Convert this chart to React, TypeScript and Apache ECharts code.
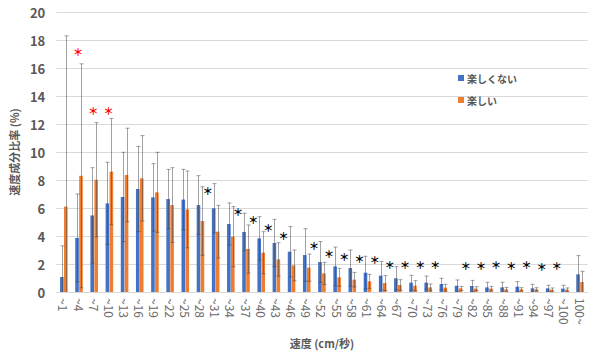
import React, { useEffect, useRef } from "react";
import * as echarts from "echarts";

const categories = [
  "~1", "~4", "~7", "~10", "~13", "~16", "~19", "~22", "~25", "~28", "~31", "~34",
  "~37", "~40", "~43", "~46", "~49", "~52", "~55", "~58", "~61", "~64", "~67", "~70",
  "~73", "~76", "~79", "~82", "~85", "~88", "~91", "~94", "~97", "~100", "100~",
];

const notFunValues = [
  1.07, 3.86, 5.47, 6.33, 6.79, 7.36, 6.76, 6.64, 6.6, 6.21, 5.98, 4.86,
  4.29, 3.83, 3.5, 2.88, 2.64, 2.14, 1.83, 1.71, 1.38, 1.17, 0.98, 0.67,
  0.67, 0.57, 0.45, 0.43, 0.33, 0.33, 0.38, 0.26, 0.26, 0.24, 1.26,
];
const notFunSD = [
  2.23, 3.14, 3.41, 2.93, 3.19, 3.04, 2.41, 2.12, 2.16, 2.1, 1.76, 1.5,
  1.33, 1.55, 1.69, 1.79, 1.88, 1.46, 1.38, 1.29, 1.17, 1.02, 0.83, 0.52,
  0.47, 0.41, 0.41, 0.4, 0.36, 0.36, 0.36, 0.29, 0.22, 0.24, 1.34,
];
const funValues = [
  6.1, 8.3, 8.02, 8.6, 8.36, 8.12, 7.12, 6.21, 5.9, 5.07, 4.31, 3.95,
  3.07, 2.81, 2.33, 1.9, 1.74, 1.33, 1.05, 0.88, 0.76, 0.64, 0.5, 0.45,
  0.33, 0.31, 0.26, 0.24, 0.24, 0.19, 0.19, 0.19, 0.17, 0.17, 0.71,
];
const funSD = [
  12.2, 8.0, 4.08, 3.8, 3.34, 3.05, 2.86, 2.67, 2.74, 2.45, 1.88, 2.15,
  1.72, 1.5, 1.19, 1.1, 0.97, 0.79, 0.64, 0.52, 0.5, 0.53, 0.38, 0.36,
  0.24, 0.24, 0.14, 0.14, 0.16, 0.14, 0.12, 0.12, 0.12, 0.12, 0.77,
];

const redStarIdx = [1, 2, 3];
const redStarY = [17.16, 12.95, 12.95];
const blackStarIdx = [10, 12, 13, 14, 15, 17, 18, 19, 20, 21, 22, 23, 24, 25, 27, 28, 29, 30, 31, 32, 33];
const blackStarY = [7.24, 5.73, 5.21, 4.59, 4.07, 3.29, 2.76, 2.52, 2.41, 2.3, 1.98, 1.98, 1.93, 1.98, 1.88, 1.88, 1.93, 1.88, 1.93, 1.83, 1.88];

const SERIES_NAMES = ["楽しくない", "楽しい"];
const COLORS = ["#4472C4", "#ED7D31"];
const BAR_W = 3.6;
const BAR_GAP = 0.36;
const FONT = "'Noto Sans CJK JP', 'Noto Sans', sans-serif";

function errorSeries(values: number[], sd: number[], side: number) {
  const data = values.map((v, i) => [i, v, sd[i]]);
  return {
    type: "custom",
    silent: true,
    z: 5,
    data,
    renderItem: (params: any, api: any) => {
      const i = api.value(0);
      const v = api.value(1);
      const s = api.value(2);
      const lo = Math.max(0, v - s);
      const hi = v + s;
      const pTop = api.coord([i, hi]);
      const pLo = api.coord([i, lo]);
      const x = Math.round(pTop[0] + side * (BAR_W + BAR_GAP) / 2) + 0.5;
      const style = { stroke: "rgba(70,70,70,0.5)", lineWidth: 1 };
      const cap = 2;
      const children: any[] = [
        { type: "line", shape: { x1: x, y1: pTop[1], x2: x, y2: pLo[1] }, style },
        { type: "line", shape: { x1: x - cap, y1: pTop[1], x2: x + cap, y2: pTop[1] }, style },
      ];
      if (v - s > 0) {
        children.push({ type: "line", shape: { x1: x - cap, y1: pLo[1], x2: x + cap, y2: pLo[1] }, style });
      }
      return { type: "group", children };
    },
  };
}

function starSeries(idx: number[], ys: number[], color: string, dx: number) {
  return {
    type: "custom",
    silent: true,
    z: 6,
    data: idx.map((i, k) => [i, ys[k]]),
    renderItem: (params: any, api: any) => {
      const p = api.coord([api.value(0), api.value(1)]);
      return {
        type: "text",
        x: p[0] + dx,
        y: p[1],
        style: {
          text: "＊",
          fill: color,
          fontSize: 10.5,
          fontWeight: "bold",
          fontFamily: "'Noto Sans CJK JP', sans-serif",
          align: "center",
          verticalAlign: "middle",
        },
      };
    },
  };
}

export default function App() {
  const ref = useRef<HTMLDivElement>(null);
  useEffect(() => {
    if (!ref.current) return;
    document.body.style.margin = "0";
    const chart = echarts.init(ref.current, undefined, { renderer: "svg" });
    chart.setOption({
      animation: false,
      backgroundColor: "#ffffff",
      textStyle: { fontFamily: FONT },
      grid: { left: 55.6, right: 12.4, top: 12, bottom: 66 },
      legend: {
        orient: "vertical",
        left: 453,
        top: 66,
        itemWidth: 6,
        itemHeight: 6,
        itemGap: 8,
        icon: "rect",
        data: SERIES_NAMES,
        textStyle: { fontSize: 10, lineHeight: 14, fontWeight: "bold", color: "#595959", fontFamily: FONT, padding: [0, 0, 0, -2] },
      },
      xAxis: {
        type: "category",
        data: categories,
        axisLine: { lineStyle: { color: "#D9D9D9", width: 1 } },
        axisTick: { show: false },
        axisLabel: {
          rotate: -90,
          interval: 0,
          fontSize: 12,
          color: "#6b6b6b",
          margin: 6,
          fontFamily: FONT,
        },
        name: "速度 (cm/秒)",
        nameLocation: "middle",
        nameGap: 45,
        nameTextStyle: { fontSize: 11, fontWeight: "bold", color: "#595959", fontFamily: FONT },
      },
      yAxis: {
        type: "value",
        min: 0,
        max: 20,
        interval: 2,
        axisLine: { show: false },
        axisTick: { show: false },
        splitLine: { lineStyle: { color: "#D9D9D9", width: 1 } },
        axisLabel: { fontSize: 13, fontWeight: "bold", color: "#595959", margin: 11, fontFamily: FONT },
        name: "速度成分比率 (%)",
        nameLocation: "middle",
        nameRotate: 90,
        nameGap: 32,
        nameTextStyle: { fontSize: 11, fontWeight: "bold", color: "#595959", fontFamily: FONT },
      },
      series: [
        {
          name: SERIES_NAMES[0],
          type: "bar",
          data: notFunValues,
          barWidth: BAR_W,
          barGap: "10%",
          itemStyle: { color: COLORS[0] },
        },
        {
          name: SERIES_NAMES[1],
          type: "bar",
          data: funValues,
          barWidth: BAR_W,
          barGap: "10%",
          itemStyle: { color: COLORS[1] },
        },
        errorSeries(notFunValues, notFunSD, -1),
        errorSeries(funValues, funSD, 1),
        starSeries(redStarIdx, redStarY, "#FF0000", -1),
        starSeries(blackStarIdx, blackStarY, "#000000", -8),
      ],
    });
    return () => chart.dispose();
  }, []);
  return <div ref={ref} style={{ position: "absolute", left: 0, top: 0, width: 600, height: 358 }} />;
}
